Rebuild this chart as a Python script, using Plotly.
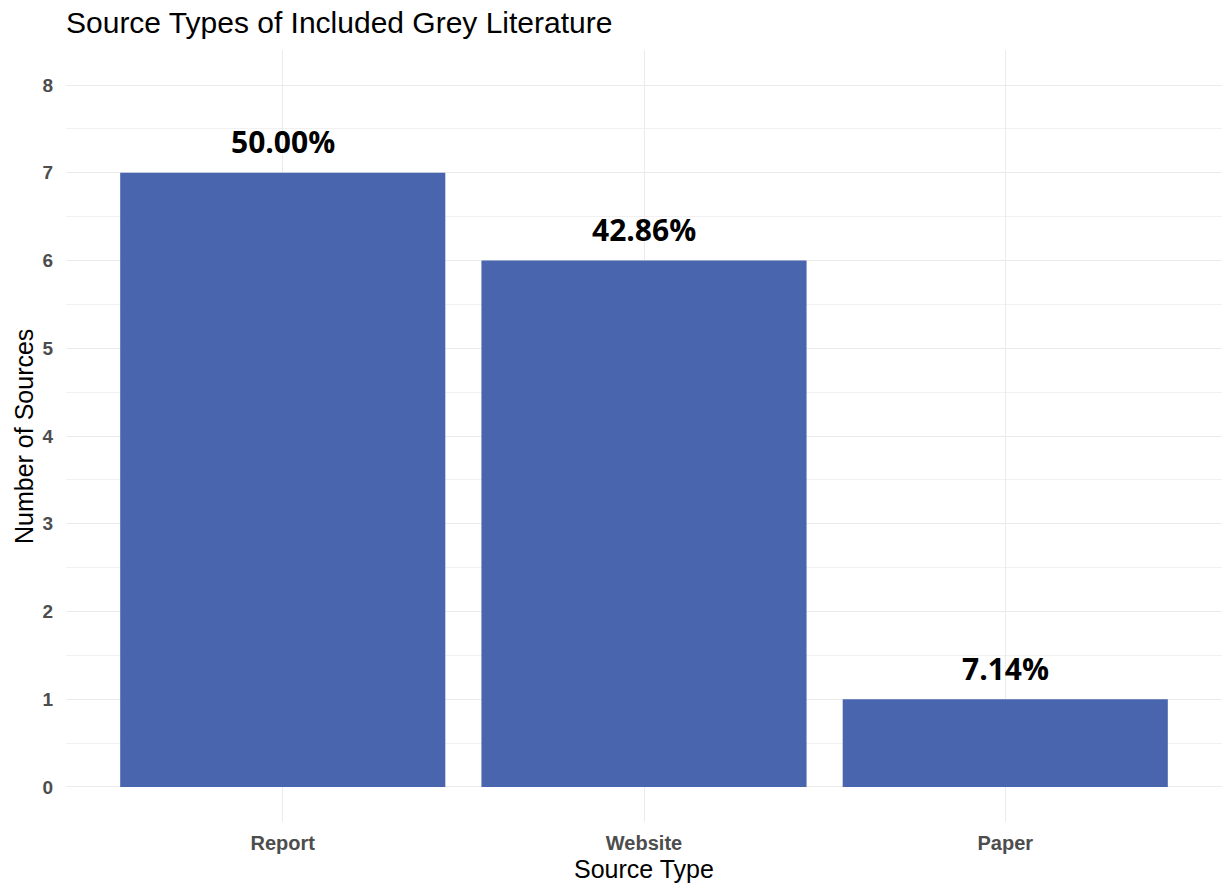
import plotly.graph_objects as go

# Source types and counts of included grey literature
source_types = ["Report", "Website", "Paper"]
counts = [7, 6, 1]
pct_labels = ["50.00%", "42.86%", "7.14%"]
y_ticks = [0, 1, 2, 3, 4, 5, 6, 7, 8]

bar_color = "#4865AE"
tick_color = "#4D4D4D"

fig = go.Figure()
fig.add_trace(go.Bar(
    x=source_types,
    y=counts,
    width=0.9,
    marker=dict(color=bar_color, line=dict(width=0)),
    hoverinfo="skip",
))

# Percentage labels above each bar
for cat, val, lab in zip(source_types, counts, pct_labels):
    fig.add_annotation(
        x=cat, y=val, xref="x", yref="y",
        text=lab, showarrow=False,
        yanchor="middle", yshift=31,
        font=dict(family="Open Sans", size=30, color="#000000", weight="bold"),
    )

fig.update_layout(
    width=1222, height=884,
    margin=dict(l=66, r=0, t=50, b=62),
    paper_bgcolor="white",
    plot_bgcolor="white",
    showlegend=False,
    bargap=0.1,
    title=dict(
        text="Source Types of Included Grey Literature",
        x=66 / 1222, xanchor="left",
        y=1 - 22 / 884, yanchor="middle",
        font=dict(family="Liberation Sans, Arial", size=30, color="#000000"),
    ),
    xaxis=dict(
        range=[-0.6, 2.6],
        showgrid=True, gridcolor="#EBEBEB", gridwidth=1.4,
        zeroline=False, showline=False, ticks="",
        tickfont=dict(family="Liberation Sans, Arial", size=20, color=tick_color, weight="bold"),
        ticklabelstandoff=7,
    ),
    yaxis=dict(
        range=[-0.4, 8.4],
        tickvals=y_ticks,
        showgrid=True, gridcolor="#EBEBEB", gridwidth=1.4,
        zeroline=False, showline=False, ticks="",
        tickfont=dict(family="Liberation Sans, Arial", size=19, color=tick_color, weight="bold"),
        ticklabelstandoff=12,
        minor=dict(dtick=0.5, tick0=0, showgrid=True, gridcolor="#F1F1F1", gridwidth=1),
    ),
)

# Axis titles
fig.add_annotation(
    text="Source Type", xref="paper", yref="paper",
    x=0.5, y=-(869 - 822) / (884 - 50 - 62), xanchor="center", yanchor="middle",
    showarrow=False,
    font=dict(family="Liberation Sans, Arial", size=25, color="#000000"),
)
fig.add_annotation(
    text="Number of Sources", xref="paper", yref="paper",
    x=-(66 - 24) / (1222 - 66), y=(822 - 437) / (884 - 50 - 62),
    xanchor="center", yanchor="middle", textangle=-90,
    showarrow=False,
    font=dict(family="Liberation Sans, Arial", size=25, color="#000000"),
)

fig.write_html("out.html")
